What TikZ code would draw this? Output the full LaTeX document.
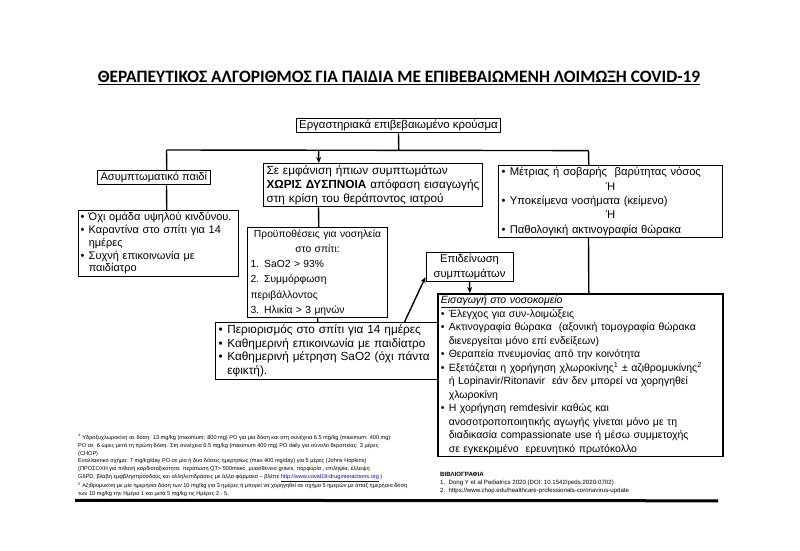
\documentclass[tikz,border=0pt]{standalone}
\usepackage{fontspec}
\setmainfont{Liberation Sans}
\newfontfamily\titlefont{Carlito}
\usetikzlibrary{positioning,calc,arrows.meta}

\tikzset{
  flowbox/.style={draw,line width=1pt,anchor=north west,align=left,inner xsep=3pt,inner ysep=2pt},
  wire/.style={draw=black,line width=1.4pt},
  wirearrow/.style={wire,-{Stealth[length=6pt,width=5pt]}},
}
\newcommand{\bul}{\makebox[0.75em][l]{•}}
\newcommand{\ind}{\hspace*{0.75em}}
\newcommand{\bx}[2]{\fontsize{#1}{#2}\selectfont}

\begin{document}
\begin{tikzpicture}[x=1pt,y=-1pt]
\useasboundingbox (0,0) rectangle (800,551);
\node[font=\titlefont\bfseries\fontsize{17.4}{20}\selectfont] (title) at (399,78)
  {\underline{ΘΕΡΑΠΕΥΤΙΚΟΣ ΑΛΓΟΡΙΘΜΟΣ ΓΙΑ ΠΑΙΔΙΑ ΜΕ ΕΠΙΒΕΒΑΙΩΜΕΝΗ ΛΟΙΜΩΞΗ COVID-19}};

% boxes
\node[flowbox,anchor=center,align=center,font=\bx{11.4}{13.5}] (case) at (398.5,125.5) {Εργαστηριακά επιβεβαιωμένο κρούσμα};
\node[flowbox,font=\bx{11.1}{13.5}] (asympt) at (97,170) {Ασυμπτωματικό παιδί};
\node[flowbox,inner xsep=2pt,text width=156pt,font=\bx{11}{12.8}] (home) at (78,210)
  {\bul Όχι ομάδα υψηλού κινδύνου.\\ \bul Καραντίνα στο σπίτι για 14\\ \ind ημέρες\\ \bul Συχνή επικοινωνία με\\ \ind παιδίατρο};
\node[flowbox,text width=213pt,font=\bx{11.8}{14}] (mild) at (263,163)
  {Σε εμφάνιση ήπιων συμπτωμάτων\\ \textbf{ΧΩΡΙΣ ΔΥΣΠΝΟΙΑ} απόφαση εισαγωγής\\ στη κρίση του θεράποντος ιατρού};
\node[flowbox,text width=134pt,font=\bx{10.3}{15.2}] (crit) at (247,227)
  {\makebox[134pt]{Προϋποθέσεις για νοσηλεία}\\ \makebox[134pt]{στο σπίτι:}\\ 1. SaO2 > 93\%\\ 2. Συμμόρφωση\\ περιβάλλοντος\\ 3. Ηλικία > 3 μηνών};
\node[flowbox,text width=217pt,font=\bx{11.8}{13.8}] (restrict) at (215,322)
  {\bul Περιορισμός στο σπίτι για 14 ημέρες\\ \bul Καθημερινή επικοινωνία με παιδίατρο\\ \bul Καθημερινή μέτρηση SaO2 (όχι πάντα\\ \ind εφικτή).};
\node[flowbox,anchor=center,align=center,text width=81pt,font=\bx{11.2}{14.5}] (worse) at (469.5,267) {Επιδείνωση\\ συμπτωμάτων};
\node[flowbox,text width=218pt,font=\bx{11.2}{14.3}] (severe) at (498,165)
  {\bul Μέτριας ή σοβαρής\ \ βαρύτητας νόσος\\ \makebox[218pt]{Ή}\\ \bul Υποκείμενα νοσήματα (κείμενο)\\ \makebox[218pt]{Ή}\\ \bul Παθολογική ακτινογραφία θώρακα};
\node[flowbox,line width=1.8pt,text width=279pt,font=\bx{10.5}{13.5}] (hosp) at (437,293)
  {\underline{\textit{Εισαγωγή στο νοσοκομείο}}\\
   \bul Έλεγχος για συν-λοιμώξεις\\
   \bul Ακτινογραφία θώρακα\ \ (αξονική τομογραφία θώρακα\\ \ind διενεργείται μόνο επί ενδείξεων)\\
   \bul Θεραπεία πνευμονίας από την κοινότητα\\
   \bul Εξετάζεται η χορήγηση χλωροκίνης\textsuperscript{1} ± αζιθρομυκίνης\textsuperscript{2}\\
   \ind ή Lopinavir/Ritonavir\ \ εάν δεν μπορεί να χορηγηθεί\\ \ind χλωροκίνη\\
   \bul Η χορήγηση remdesivir καθώς και\\ \ind ανοσοτροποποιητικής αγωγής γίνεται μόνο με τη\\
   \ind διαδικασία compassionate use ή μέσω συμμετοχής\\ \ind σε εγκεκριμένο\ \ ερευνητικό πρωτόκολλο};

% connectors
\coordinate (busL) at (166.5,150);
\coordinate (busM) at (318.5,150);
\coordinate (busR) at (588.5,150.6);
\coordinate (upfoot) at (404.5,322);
\draw[wire] (case.south) -- ($(case.south |- busL)+(0.3,0)$);
\draw[wire] (busL) -- (busR);
\draw[wire] (busL) -- ($(busL |- asympt.north)+(0.3,0)$);
\draw[wire] (asympt.south -| busL) -- ($(busL |- home.north)+(0.3,0)$);
\draw[wirearrow] (busM) -- ($(busM |- mild.north)+(0.3,0)$);
\draw[wire] (mild.south -| busM) -- ($(busM |- crit.north)+(0.3,0)$);
\draw[wire] (crit.south) -- ($(crit.south |- restrict.north)+(0.3,0)$);
\draw[wirearrow] (upfoot) -- ([yshift=5pt]worse.south west);
\draw[wirearrow] (worse.south) -- ($(worse.south |- hosp.north)+(0.3,0)$);
\draw[wire] (busR) -- ($(busR |- severe.north)+(0.3,0)$);
\draw[wire] (severe.south -| busR) -- ($(busR |- hosp.north)+(0.3,0)$);

% notes
\node[anchor=north west,align=left,inner sep=0pt,font=\bx{5.6}{7.8}] (notes) at (78,434)
  {\textsuperscript{1} Υδροξυχλωροκίνη σε δόση: 13 mg/kg (maximum: 800 mg) PO για μία δόση και στη συνέχεια 6.5 mg/kg (maximum: 400 mg)\\
   PO σε\ \ 6 ώρες μετά τη πρώτη δόση. Στη συνέχεια 6.5 mg/kg (maximum 400 mg) PO daily για σύνολο θεραπείας: 3 μέρες\\
   (CHOP)\\
   Εναλλακτικό σχήμα: 7 mg/kg/day PO σε μία ή δυο δόσεις ημερησίως (max 400 mg/day) για 5 μέρες (Johns Hopkins)\\
   (ΠΡΟΣΟΧΗ για πιθανή καρδιοτοξικότητα: περάτωση QT> 500msec, μυασθένεια gravis, πορφυρία , επιληψία, έλλειψη\\
   G6PD, βλάβη εμφβλησπροσδούς και αλληλεπιδράσεις με άλλα φάρμακα – βλέπε \textcolor{blue}{\underline{http://www.covid19-druginteractions.org}} )\\
   \textsuperscript{2} Αζιθρομυκίνη με μία ημερήσια δόση των 10 mg/kg για 3 ημέρες ή μπορεί να χορηγηθεί σε σχήμα 5 ημερών με άπαξ ημερήσια δόση\\
   των 10 mg/kg την Ημέρα 1 και μετά 5 mg/kg τις Ημέρες 2 - 5.};
\node[anchor=north west,align=left,inner sep=0pt,font=\bx{6.1}{8}] (biblio) at (440,472)
  {\textbf{ΒΙΒΛΙΟΓΡΑΦΙΑ}\\
   1.\ \ Dong Y et al Pediatrics 2020 (DOI: 10.1542/peds.2020-0702)\\
   2.\ \ https://www.chop.edu/healthcare-professionals-coronavirus-update};
\draw[line width=3pt] (75,500.3) -- (718,500.8);
\end{tikzpicture}
\end{document}
